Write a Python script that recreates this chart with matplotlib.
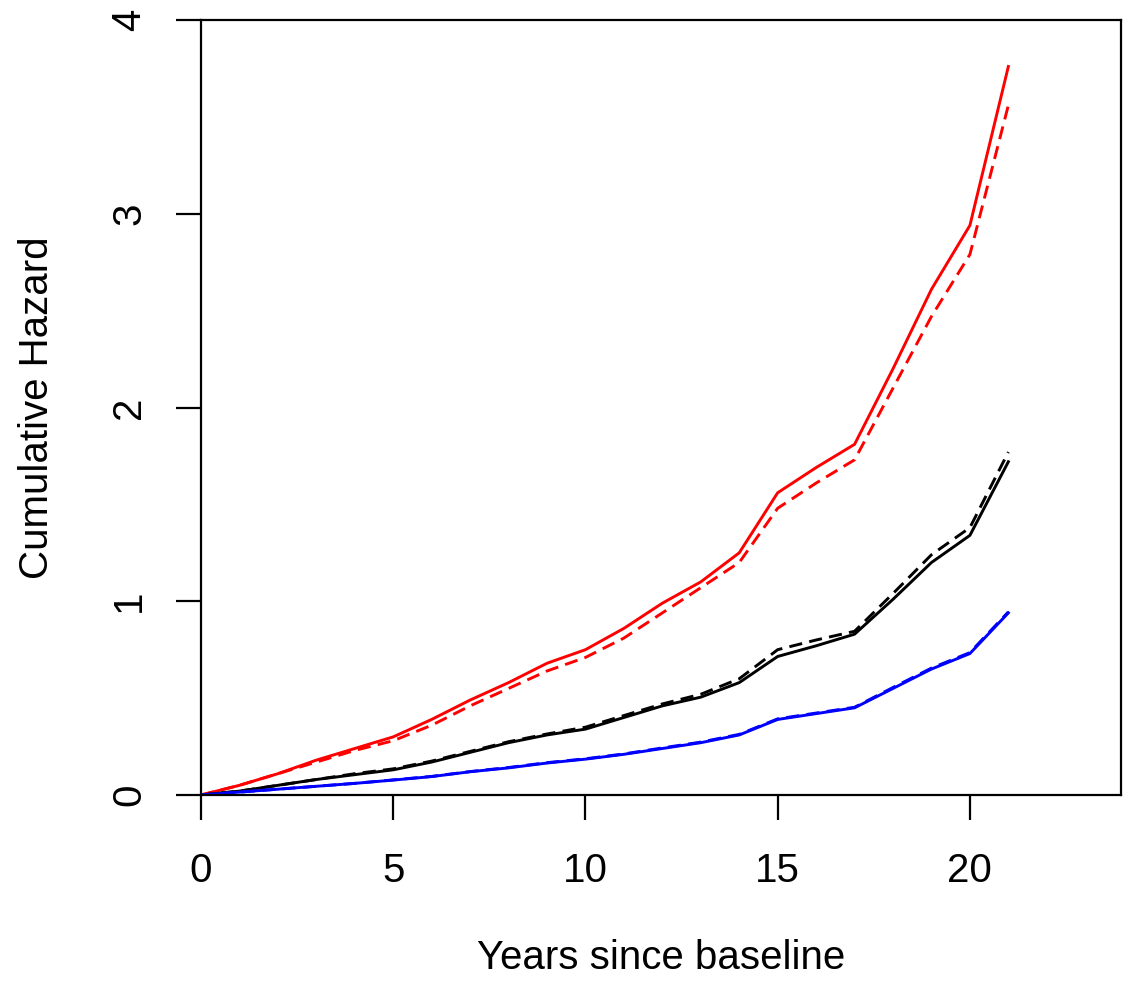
import numpy as np
import matplotlib.pyplot as plt

plt.rcParams['font.family'] = ['Liberation Sans', 'DejaVu Sans']

years = list(range(0, 22))

red_solid = [0, 0.05, 0.11, 0.18, 0.24, 0.30, 0.39, 0.49, 0.58, 0.68, 0.75, 0.86,
             0.99, 1.10, 1.25, 1.56, 1.69, 1.81, 2.20, 2.61, 2.94, 3.76]
red_dashed = [0, 0.05, 0.11, 0.17, 0.23, 0.28, 0.36, 0.46, 0.55, 0.64, 0.71, 0.81,
              0.94, 1.07, 1.20, 1.48, 1.61, 1.73, 2.10, 2.47, 2.79, 3.56]
black_solid = [0, 0.02, 0.05, 0.08, 0.105, 0.13, 0.17, 0.22, 0.27, 0.31, 0.34, 0.40,
               0.46, 0.505, 0.58, 0.715, 0.77, 0.83, 1.01, 1.20, 1.34, 1.72]
black_dashed = [0, 0.02, 0.05, 0.08, 0.11, 0.135, 0.175, 0.225, 0.275, 0.315, 0.35, 0.41,
                0.47, 0.52, 0.60, 0.75, 0.80, 0.845, 1.04, 1.24, 1.38, 1.77]
blue_solid = [0, 0.015, 0.03, 0.045, 0.06, 0.077, 0.095, 0.12, 0.14, 0.165, 0.185, 0.21,
              0.24, 0.27, 0.31, 0.39, 0.42, 0.45, 0.55, 0.65, 0.73, 0.94]
blue_dashed = [0, 0.015, 0.03, 0.045, 0.06, 0.078, 0.096, 0.121, 0.142, 0.167, 0.187, 0.212,
               0.243, 0.273, 0.313, 0.393, 0.423, 0.453, 0.555, 0.655, 0.735, 0.945]

fig = plt.figure(figsize=(11.29, 9.85), dpi=100)
ax = fig.add_axes([201 / 1129, 190 / 985, 920 / 1129, 775 / 985])

lw = 2.1
dash = (0, (4.5, 2.5))
ax.plot(years, red_solid, color='#ff0000', lw=lw)
ax.plot(years, red_dashed, color='#ff0000', lw=lw, ls=dash)
ax.plot(years, black_solid, color='black', lw=lw)
ax.plot(years, black_dashed, color='black', lw=lw, ls=dash)
ax.plot(years, blue_solid, color='#0000ff', lw=lw)
ax.plot(years, blue_dashed, color='#0000ff', lw=lw, ls=dash)

ax.set_xlim(0, 23.93)
ax.set_ylim(0, 4)
ax.set_xticks([0, 5, 10, 15, 20])
ax.set_yticks([0, 1, 2, 3, 4])

for s in ax.spines.values():
    s.set_linewidth(1.6)

ax.tick_params(axis='both', direction='out', length=18, width=1.6, labelsize=29)
ax.tick_params(axis='x', pad=23)
ax.tick_params(axis='y', pad=20)
for lab in ax.get_yticklabels():
    lab.set_rotation(90)
    lab.set_va('center')

ax.set_xlabel('Years since baseline', fontsize=29, labelpad=35)
ax.set_ylabel('Cumulative Hazard', fontsize=29, labelpad=39)

fig.savefig('out.png', dpi=100)
